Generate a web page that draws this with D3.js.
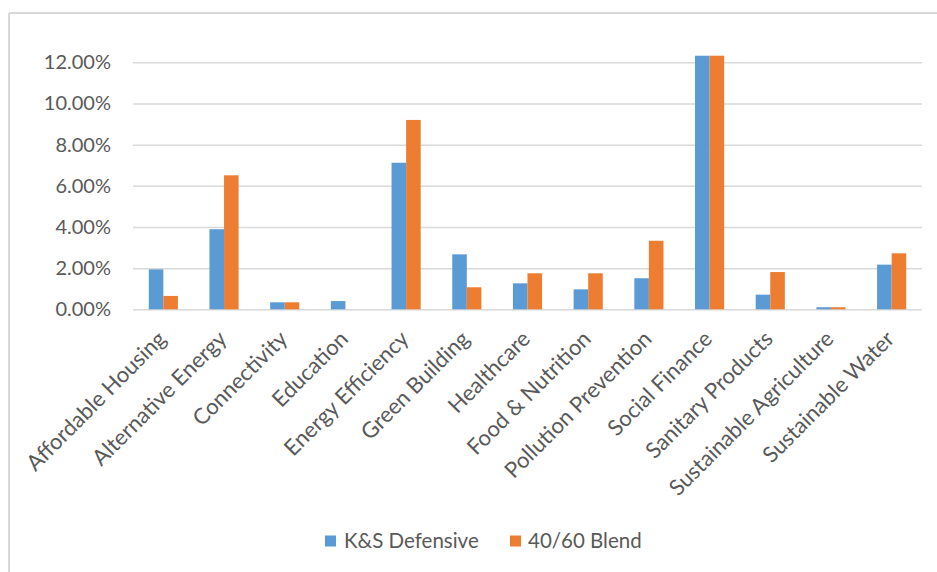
<!DOCTYPE html>
<html>
<head>
<meta charset="utf-8">
<script src="https://cdn.jsdelivr.net/npm/d3@7"></script>
<style>
  html, body { margin: 0; padding: 0; background: #fff; }
  svg { display: block; }
  text { font-family: Lato, "Open Sans", sans-serif; fill: #595959; }
</style>
</head>
<body>
<svg id="chart" width="937" height="572"></svg>
<script>
const categories = [
  "Affordable Housing", "Alternative Energy", "Connectivity", "Education",
  "Energy Efficiency", "Green Building", "Healthcare", "Food & Nutrition",
  "Pollution Prevention", "Social Finance", "Sanitary Products",
  "Sustainable Agriculture", "Sustainable Water"
];
const seriesNames = ["K&S Defensive", "40/60 Blend"];
const ksDefensive = [1.94, 3.89, 0.34, 0.40, 7.12, 2.67, 1.26, 0.97, 1.51, 12.32, 0.71, 0.10, 2.17];
const blend4060   = [0.65, 6.51, 0.34, 0.00, 9.20, 1.07, 1.75, 1.75, 3.33, 12.32, 1.81, 0.10, 2.72];
const yTicks = [0, 2, 4, 6, 8, 10, 12];
const colors = ["#5b9bd5", "#ed7d31"];

const svg = d3.select("#chart");

// chart frame (top and left border)
svg.append("line").attr("x1", 9).attr("x2", 937).attr("y1", 13).attr("y2", 13)
  .attr("stroke", "#d9d9d9").attr("stroke-width", 2);
svg.append("line").attr("x1", 9).attr("x2", 9).attr("y1", 13).attr("y2", 572)
  .attr("stroke", "#d9d9d9").attr("stroke-width", 2);

const plot = { left: 133, right: 922, top: 62.3, bottom: 309.3 };

const x = d3.scaleBand().domain(categories).range([plot.left, plot.right]).paddingInner(0.52).paddingOuter(0.26);
const xs = d3.scaleBand().domain([0, 1]).range([0, x.bandwidth()]);
const y = d3.scaleLinear().domain([0, 12]).range([plot.bottom, plot.top]);

// gridlines
const yAxis = d3.axisLeft(y).tickValues(yTicks).tickSize(-(plot.right - plot.left)).tickPadding(22)
  .tickFormat(d => d.toFixed(2) + "%");
const gy = svg.append("g").attr("transform", `translate(${plot.left},0)`).call(yAxis);
gy.select(".domain").remove();
gy.selectAll(".tick line").attr("stroke", "#d9d9d9").attr("stroke-width", 1.5);
gy.selectAll(".tick text").attr("font-size", 20).attr("fill", "#595959")
  .style("font-family", "Lato, 'Open Sans', sans-serif");

// bars
const data = [ksDefensive, blend4060];
data.forEach((vals, si) => {
  svg.append("g").selectAll("rect").data(categories).join("rect")
    .attr("x", (c) => x(c) + xs(si))
    .attr("width", xs.bandwidth())
    .attr("y", (c, i) => y(vals[i]))
    .attr("height", (c, i) => plot.bottom - y(vals[i]))
    .attr("fill", colors[si]);
});

// x labels
const xAxis = d3.axisBottom(x).tickSize(0).tickPadding(0);
const gx = svg.append("g").attr("transform", `translate(0,${plot.bottom})`).call(xAxis);
gx.select(".domain").remove();
gx.selectAll(".tick text")
  .attr("font-size", 22)
  .attr("fill", "#595959")
  .style("font-family", "Lato, 'Open Sans', sans-serif")
  .attr("text-anchor", "end")
  .attr("dy", null)
  .attr("y", 0)
  .attr("transform", "translate(4,31) rotate(-45)");

// legend
const legend = svg.append("g");
const legendItems = [{ x: 325, tx: 344 }, { x: 510, tx: 528 }];
seriesNames.forEach((name, i) => {
  legend.append("rect").attr("x", legendItems[i].x).attr("y", 535.5).attr("width", 11).attr("height", 11).attr("fill", colors[i]);
  legend.append("text").attr("x", legendItems[i].tx).attr("y", 541).attr("dy", "0.35em")
    .attr("font-size", 20.5).text(name);
});
</script>
</body>
</html>
